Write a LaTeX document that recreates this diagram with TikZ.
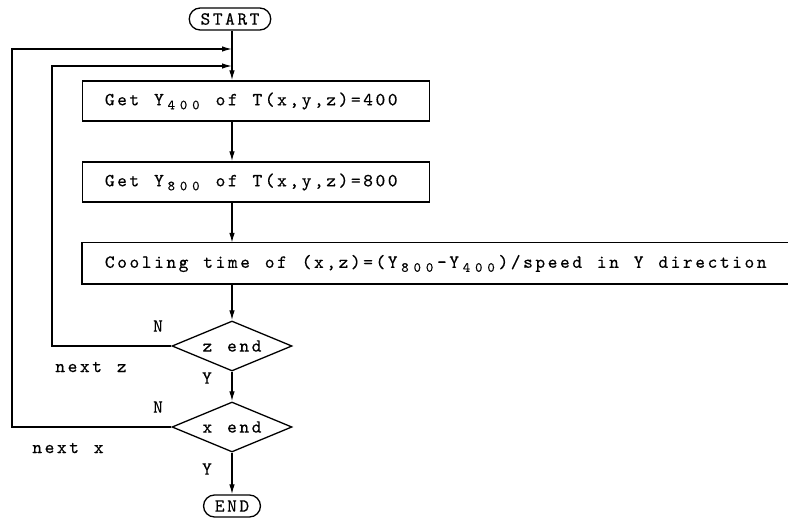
\documentclass[tikz,border=0pt]{standalone}
\usepackage{fontspec}
\newfontfamily\twf{lmmono10-regular.otf}[FakeBold=0.4]
\usetikzlibrary{shapes.geometric,arrows.meta}
\newlength\pitch
\setlength\pitch{12.3pt}
\def\monoend{\monoend}
\newcommand\mono[1]{\monoloop#1\monoend}
\def\monoloop#1{\ifx#1\monoend\else\makebox[\pitch][c]{#1}\expandafter\monoloop\fi}
\newcommand{\lowdig}[1]{\raisebox{-4pt}{\fontsize{14pt}{15pt}\selectfont\mono{#1}}}
\begin{document}
\begin{tikzpicture}[x=1pt,y=-1pt,line width=1.3pt,
  font=\twf\fontsize{18.5pt}{20pt}\selectfont,
  arr/.style={-{Latex[length=10pt,width=5.5pt]}},
  proc/.style={rectangle,anchor=west,minimum height=40pt,inner xsep=21pt,inner ysep=0pt},
  dia/.style={diamond,draw,aspect=2.4,minimum width=120pt,minimum height=50pt,inner sep=0pt},
  term/.style={draw,rectangle,rounded corners=11pt,minimum height=22pt,inner xsep=10pt,inner ysep=0pt},
  lbl/.style={inner sep=0pt}]
\useasboundingbox (0,0) rectangle (788,521);
\coordinate (mx) at (232,0);
\coordinate (j1) at (232,49);
\coordinate (j2) at (232,66);
\coordinate (xl) at (12,0);
\coordinate (zl) at (52,0);

\node[term] (start) at (230,19) {\mono{START}};
\node[proc,draw,minimum width=347pt,text width=305pt,align=left] (b1) at (82,101) {\mono{Get~Y}\lowdig{400}\mono{~of~T(x,y,z)=400}};
\node[proc,draw,minimum width=347pt,text width=305pt,align=left] (b2) at (82,182) {\mono{Get~Y}\lowdig{800}\mono{~of~T(x,y,z)=800}};
\node[proc,minimum width=706pt] (b3) at (82,263.5) {\mono{Cooling~time~of~(x,z)=(Y}\lowdig{800}\mono{-Y}\lowdig{400}\mono{)/speed~in~Y~direction}};
\draw (b3.north east) -- (b3.north west) -- (b3.south west) -- (b3.south east);
\node[dia] (zd) at (232,346) {\mono{z~end}};
\node[dia] (xd) at (232,427) {\mono{x~end}};
\node[term] (end) at (232,506) {\mono{END}};

\node[lbl] (nz) at (158,326) {N};
\node[lbl] (tz) at (91,367) {\mono{next~z}};
\node[lbl] (yz) at (207,378) {Y};
\node[lbl] (nx) at (158,407) {N};
\node[lbl] (tx) at (68,448) {\mono{next~x}};
\node[lbl] (yx) at (207,469) {Y};

\draw[arr] (start.south -| mx) -- (b1.north -| mx);
\draw[arr] (b1.south -| mx) -- (b2.north -| mx);
\draw[arr] (b2.south -| mx) -- (b3.north -| mx);
\draw[arr] (b3.south -| mx) -- (zd.north);
\draw[arr] (zd) -- (xd);
\draw[arr] (xd) -- (end);
\draw[arr] (zd.west) -| (zl |- j2) -- (j2);
\draw[arr] (xd.west) -| (xl |- j1) -- (j1);
\end{tikzpicture}
\end{document}
